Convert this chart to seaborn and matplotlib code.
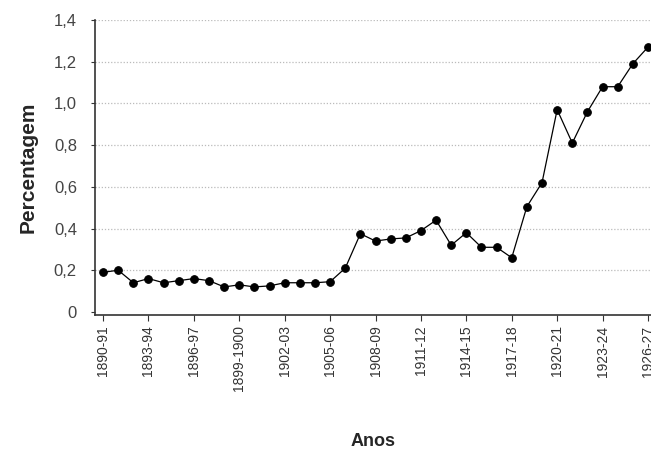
import matplotlib
matplotlib.use("Agg")
import matplotlib.pyplot as plt
import seaborn as sns
import pandas as pd
import numpy as np

start_years = list(range(1890, 1927))
def label(y):
    e = y + 1
    if y == 1899:
        return "1899-1900"
    return f"{y}-{e % 100:02d}"
anos = [label(y) for y in start_years]

percentagem = [0.19, 0.20, 0.14, 0.16, 0.14, 0.15, 0.16, 0.15, 0.12, 0.13,
               0.12, 0.125, 0.14, 0.14, 0.14, 0.145, 0.21, 0.375, 0.34, 0.35,
               0.355, 0.39, 0.44, 0.32, 0.38, 0.31, 0.31, 0.26, 0.505, 0.62,
               0.97, 0.81, 0.96, 1.08, 1.08, 1.19, 1.27]

yticks = [0, 0.2, 0.4, 0.6, 0.8, 1.0, 1.2, 1.4]
ytick_labels = ["0", "0,2", "0,4", "0,6", "0,8", "1,0", "1,2", "1,4"]

df = pd.DataFrame({"idx": range(len(anos)), "ano": anos, "pct": percentagem})

sns.set_style("white")
plt.rcParams['font.family'] = ['Liberation Sans', 'DejaVu Sans']

fig = plt.figure(figsize=(6.51, 4.54), dpi=100)
ax = fig.add_axes([0.146, 0.306, 0.854, 0.65])

sns.lineplot(data=df, x="idx", y="pct", ax=ax, color="black", linewidth=0.9,
             marker="o", markersize=5.5, markeredgecolor="black")

ax.set_xlim(-0.53, 36.2)
ax.set_ylim(-0.015, 1.4)
ax.set_yticks(yticks)
ax.set_yticklabels(ytick_labels, fontsize=12, color="#444444")
xt = list(range(0, len(anos), 3))
ax.set_xticks(xt)
ax.set_xticklabels([anos[i] for i in xt], rotation=90, fontsize=10, color="#333333")
ax.tick_params(axis="x", direction="out", length=4, width=0.8, color="#333333", bottom=True)
ax.tick_params(axis="y", direction="out", length=3, width=0.8, color="#333333", left=True, pad=10)

for v in yticks[1:]:
    ax.axhline(v, color="#bbbbbb", linestyle=(0, (1, 1.5)), linewidth=0.9, zorder=0)

sns.despine(ax=ax, top=True, right=True)
ax.spines["left"].set_color("#333333")
ax.spines["bottom"].set_color("#333333")
ax.spines["left"].set_linewidth(1.2)
ax.spines["bottom"].set_linewidth(1.2)

ax.set_xlabel("Anos", fontsize=13, fontweight="bold", labelpad=30)
ax.set_ylabel("Percentagem", fontsize=15, fontweight="bold", labelpad=12)

fig.savefig("out.png", dpi=100)
